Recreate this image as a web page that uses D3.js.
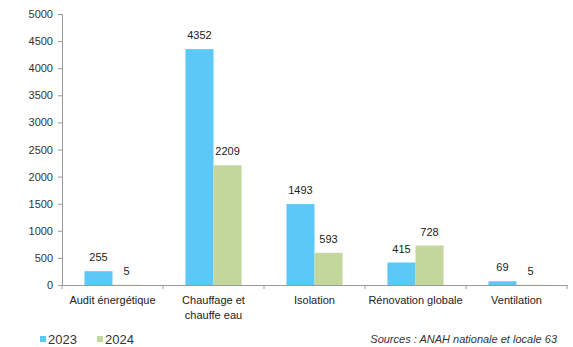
<!DOCTYPE html>
<html><head><meta charset="utf-8">
<script src="https://cdn.jsdelivr.net/npm/d3@7"></script>
<style>body{margin:0;background:#fff;}svg{display:block;font-family:"Liberation Sans",Arial,sans-serif;}</style>
</head><body><svg id="c" width="573" height="347"></svg>
<script>
const categories = ["Audit énergétique", "Chauffage et\nchauffe eau", "Isolation", "Rénovation globale", "Ventilation"];
const series = ["2023", "2024"];
const values2023 = [255, 4352, 1493, 415, 69];
const values2024 = [5, 2209, 593, 728, 5];
const yTicks = [0, 500, 1000, 1500, 2000, 2500, 3000, 3500, 4000, 4500, 5000];
const colors = ["#5bc8f7", "#c3d69b"];
const sourceText = "Sources : ANAH nationale et locale 63";

(function () {
const svg = d3.select("#c");
const mLeft = 62, mRight = 567, mTop = 14, mBottom = 285;
const x = d3.scaleBand().domain(categories).range([mLeft, mRight]).paddingInner(0).paddingOuter(0);
const xs = d3.scaleBand().domain(series).range([0, x.bandwidth()]).paddingInner(0).paddingOuter(0.8);
const y = d3.scaleLinear().domain([0, 5000]).range([mBottom, mTop]);

// y axis
const ya = svg.append("g").attr("transform", `translate(${mLeft},0)`)
  .call(d3.axisLeft(y).tickValues(yTicks).tickFormat(d3.format("d")).tickSize(4).tickPadding(5));
ya.select(".domain").attr("stroke", "#9a9a9a");
ya.selectAll(".tick line").attr("stroke", "#9a9a9a");
ya.selectAll(".tick text").attr("font-size", 11).attr("fill", "#333").attr("font-family", "Liberation Sans, Arial, sans-serif");

// x axis
const xa = svg.append("g").attr("transform", `translate(0,${mBottom})`)
  .call(d3.axisBottom(x).tickSize(0).tickFormat(""));
xa.select(".domain").attr("stroke", "#9a9a9a");
const bounds = categories.map((c) => x(c)).concat([x(categories[categories.length-1]) + x.bandwidth()]);
xa.selectAll(".bt").data(bounds).join("line").attr("class","bt")
  .attr("x1", d => d).attr("x2", d => d).attr("y1", 0).attr("y2", 4).attr("stroke", "#9a9a9a");

// category labels
categories.forEach(c => {
  const lines = c.split("\n");
  const t = svg.append("text").attr("x", x(c) + x.bandwidth()/2).attr("y", 304)
    .attr("text-anchor", "middle").attr("font-size", 11).attr("fill", "#222");
  lines.forEach((l, i) => t.append("tspan").attr("x", x(c) + x.bandwidth()/2).attr("dy", i ? 15 : 0).text(l));
});

// bars
const data = [values2023, values2024];
series.forEach((s, si) => {
  const g = svg.append("g");
  g.selectAll("rect").data(categories).join("rect")
    .attr("x", c => x(c) + xs(s)).attr("width", xs.bandwidth())
    .attr("y", (c, i) => y(data[si][i])).attr("height", (c, i) => mBottom - y(data[si][i]))
    .attr("fill", colors[si]);
  g.selectAll("text").data(categories).join("text")
    .attr("x", c => x(c) + xs(s) + xs.bandwidth()/2)
    .attr("y", (c, i) => y(data[si][i]) - 10)
    .attr("text-anchor", "middle").attr("font-size", 11).attr("fill", "#222")
    .text((c, i) => data[si][i]);
});

// legend
const legX = [40, 97];
series.forEach((s, si) => {
  svg.append("rect").attr("x", legX[si]).attr("y", 336).attr("width", 6).attr("height", 6).attr("fill", colors[si]);
  svg.append("text").attr("x", legX[si] + 8).attr("y", 344).attr("font-size", 13).attr("fill", "#333").text(s);
});
svg.append("text").attr("x", 557).attr("y", 343).attr("text-anchor", "end")
  .attr("font-size", 11).attr("font-style", "italic").attr("fill", "#333").text(sourceText);
})();
</script></body></html>
